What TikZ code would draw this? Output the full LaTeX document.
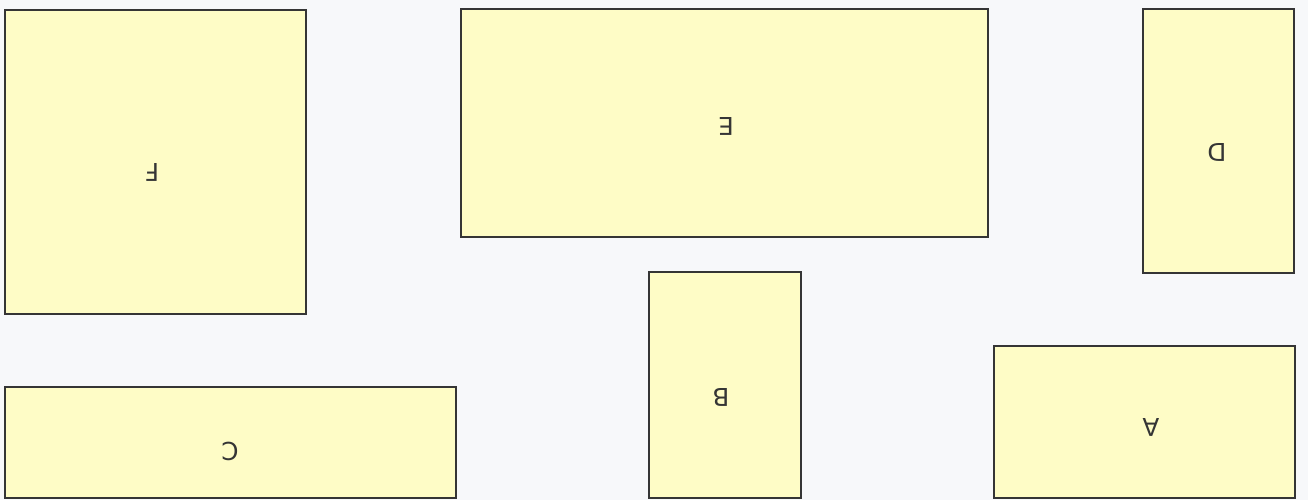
\documentclass[tikz,border=0pt]{standalone}
\usepackage{fontspec}
\setmainfont{DejaVu Sans}
\usepackage{xcolor}
\usepackage{tikz}
\usetikzlibrary{positioning}
\definecolor{PaleYellow}{HTML}{FEFCC6}
\definecolor{EdgeGray}{HTML}{353535}
\definecolor{PaperWhite}{HTML}{F7F8FA}
\tikzset{
  room/.style={draw=EdgeGray,line width=1.1pt,fill=PaleYellow,inner sep=0pt},
  tag/.style={rotate=180,inner sep=0pt,text=EdgeGray,font=\fontsize{14}{16}\selectfont}
}
\begin{document}
\begin{tikzpicture}[x=0.02cm,y=-0.02cm]
\fill[PaperWhite] (0,0) rectangle (1308,500);
\useasboundingbox (0,0) rectangle (1308,500);
\node[room,minimum width=6.02cm,minimum height=6.08cm] (F) at (155.5,162) {};
\node[room,minimum width=10.54cm,minimum height=4.56cm] (E) at (724.5,123) {};
\node[room,minimum width=3.02cm,minimum height=5.28cm] (D) at (1218.5,141) {};
\node[room,minimum width=9.02cm,minimum height=2.22cm] (C) at (230.5,442.5) {};
\node[room,minimum width=3.04cm,minimum height=4.52cm] (B) at (725,385) {};
\node[room,minimum width=6.02cm,minimum height=3.04cm] (A) at (1144.5,422) {};
\node[tag] (labF) at (152,172) {F};
\node[tag] (labE) at (726,126) {E};
\node[tag] (labD) at (1217,152) {D};
\node[tag] (labC) at (230,451) {C};
\node[tag] (labB) at (721,397) {B};
\node[tag] (labA) at (1151,427) {A};
\end{tikzpicture}
\end{document}
